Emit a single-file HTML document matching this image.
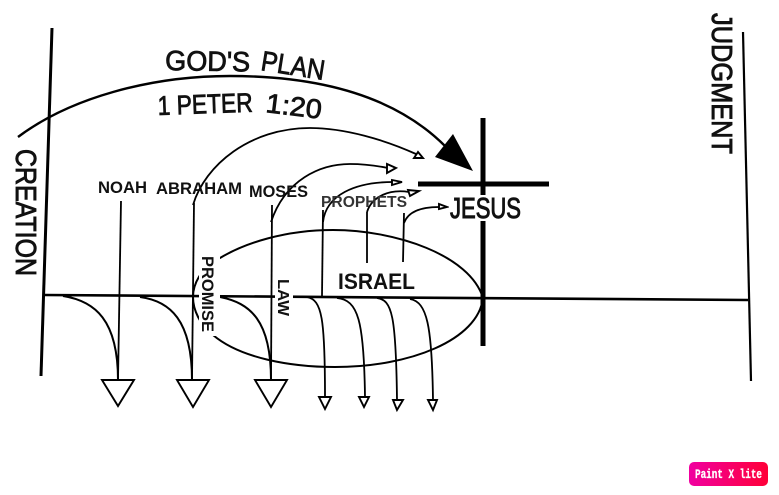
<!DOCTYPE html>
<html>
<head>
<meta charset="utf-8">
<style>
html,body{margin:0;padding:0;background:#fff;}
svg{display:block;}
text{font-family:"Liberation Sans",sans-serif;fill:#111;}
.b{font-weight:bold;}
</style>
</head>
<body>
<svg width="779" height="495" viewBox="0 0 779 495" xmlns="http://www.w3.org/2000/svg">
<defs>
<linearGradient id="g" x1="0" x2="1" y1="0" y2="0"><stop offset="0" stop-color="#f000a0"/><stop offset="1" stop-color="#ff0038"/></linearGradient>
</defs>
<g fill="none" stroke="#000" stroke-linecap="butt">
<!-- main lines -->
<path d="M52 28 L41 376" stroke-width="3"/>
<path d="M743 32 L751 381" stroke-width="2.2"/>
<path d="M45 295 L748 300" stroke-width="2.6"/>
<!-- God's plan arc -->
<path d="M18 137 C70 98 150 76 230 76 C320 76 395 96 445 146" stroke-width="2.4"/>
<!-- ellipse -->
<path d="M483 298 C470 255 395 230 333 230 C285 230 245 243 220 258 C200 268 193 285 193 297 C193 310 200 325 213 335 C240 358 290 367 335 367 C410 367 478 340 483 298" stroke-width="2"/>
<!-- vertical drop lines -->
<path d="M121 201 L118 380" stroke-width="1.8"/>
<path d="M194 203 L192 380" stroke-width="1.8"/>
<path d="M272 205 L271 380" stroke-width="1.8"/>
<path d="M323 210 L322 296" stroke-width="1.8"/>
<path d="M367 212 L367 263" stroke-width="1.8"/>
<path d="M404 213 L403 262" stroke-width="1.8"/>
<!-- arcs up -->
<path d="M193 205 C205 165 250 128 310 128 C345 128 385 140 416 154" stroke-width="1.8"/>
<path d="M271 222 C285 180 320 164 350 164 C365 164 378 166 388 168" stroke-width="1.8"/>
<path d="M323 222 C326 195 355 182 393 182" stroke-width="1.8"/>
<path d="M367 212 C372 196 390 189 409 192" stroke-width="1.8"/>
<path d="M404 223 C408 212 420 207 439 207" stroke-width="1.8"/>
<!-- curves down -->
<path d="M63 296 C95 301 118 320 118 380" stroke-width="2"/>
<path d="M140 297 C170 301 192 320 192 380" stroke-width="2"/>
<path d="M220 297 C250 303 271 320 271 380" stroke-width="2"/>
<path d="M307 297 C322 300 325 318 325 397" stroke-width="1.8"/>
<path d="M337 298 C358 300 364 320 365 397" stroke-width="1.8"/>
<path d="M377 298 C392 300 396 315 397 400" stroke-width="1.8"/>
<path d="M410 299 C427 302 432 325 433 400" stroke-width="1.8"/>
<!-- open arrowheads -->
<g fill="#fff" stroke-width="1.9">
<path d="M102 380 L134 380 L118 406 Z"/>
<path d="M177 380 L209 380 L193 407 Z"/>
<path d="M255 380 L287 380 L271 407 Z"/>
<path d="M319 397 L331 397 L325 409 Z"/>
<path d="M359 397 L369 397 L364 407 Z"/>
<path d="M393 400 L403 400 L397 410 Z"/>
<path d="M428 400 L437 400 L433 410 Z"/>
<path d="M418 152 L414 158 L423 158 Z"/>
<path d="M387 164 L387 173 L396 168 Z"/>
<path d="M392 180 L392 185 L402 182 Z"/>
<path d="M408 190 L410 196 L419 191 Z"/>
<path d="M439 204 L439 209 L447 207 Z"/>
</g>
<!-- cross -->
<path d="M483 118 L483 346" stroke-width="5"/>
<path d="M418 184 L549 184" stroke-width="5"/>
</g>
<path d="M453 134 L435 157 L473 171 Z" fill="#000"/>
<!-- label knockouts -->
<rect x="199" y="253" width="21" height="83" fill="#fff"/>
<rect x="275" y="279" width="18" height="37" fill="#fff"/>
<rect x="449" y="195" width="73" height="26" fill="#fff"/>
<!-- rotated labels -->
<text transform="translate(16 149) rotate(90)" font-size="29" textLength="127" lengthAdjust="spacingAndGlyphs" style="stroke:#111;stroke-width:.9">CREATION</text>
<text transform="translate(712 13) rotate(90)" font-size="29" textLength="141" lengthAdjust="spacingAndGlyphs" style="stroke:#111;stroke-width:.9">JUDGMENT</text>
<text transform="translate(202 256) rotate(90)" font-size="17" class="b" textLength="76" lengthAdjust="spacingAndGlyphs">PROMISE</text>
<text transform="translate(278 279) rotate(90)" font-size="15.5" class="b" textLength="37" lengthAdjust="spacingAndGlyphs">LAW</text>
<!-- arc titles -->
<text transform="translate(165 70) rotate(1)" font-size="28" textLength="85" lengthAdjust="spacingAndGlyphs" style="stroke:#111;stroke-width:.8">GOD'S</text>
<text transform="translate(260 70) rotate(9)" font-size="28" textLength="64" lengthAdjust="spacingAndGlyphs" style="stroke:#111;stroke-width:.8">PLAN</text>
<text transform="translate(158 115) rotate(-2)" font-size="27" textLength="95" lengthAdjust="spacingAndGlyphs" style="stroke:#111;stroke-width:.8">1 PETER</text>
<text transform="translate(265 112) rotate(7)" font-size="27" textLength="56" lengthAdjust="spacingAndGlyphs" style="stroke:#111;stroke-width:.8">1:20</text>
<!-- horizontal labels -->
<text x="98" y="193" font-size="16.5" class="b" textLength="49" lengthAdjust="spacingAndGlyphs">NOAH</text>
<text x="156" y="194" font-size="16.5" class="b" textLength="86" lengthAdjust="spacingAndGlyphs">ABRAHAM</text>
<text x="249" y="197" font-size="17" class="b" textLength="59" lengthAdjust="spacingAndGlyphs">MOSES</text>
<text x="321" y="207" font-size="15.5" class="b" textLength="86" lengthAdjust="spacingAndGlyphs" style="fill:#333">PROPHETS</text>
<text x="450" y="218" font-size="29" textLength="71" lengthAdjust="spacingAndGlyphs" style="stroke:#111;stroke-width:1">JESUS</text>
<text x="338" y="289" font-size="22" class="b" textLength="77" lengthAdjust="spacingAndGlyphs">ISRAEL</text>
<!-- watermark -->
<rect x="689" y="462" width="79" height="24" rx="5" fill="url(#g)"/>
<text x="695" y="478" font-size="12.5" class="b" textLength="67" lengthAdjust="spacingAndGlyphs" style="fill:#fff;stroke:#fff;stroke-width:.3;font-family:'Liberation Mono',monospace">Paint X lite</text>
</svg>
</body>
</html>
